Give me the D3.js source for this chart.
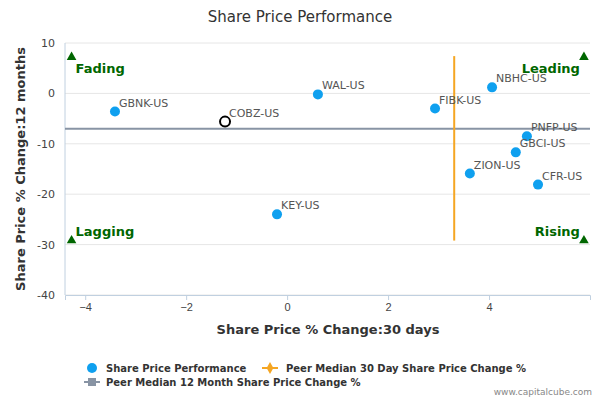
<!DOCTYPE html>
<html><head><meta charset="utf-8">
<script src="https://cdn.jsdelivr.net/npm/d3@7"></script>
<style>body{margin:0;font-family:"DejaVu Sans",sans-serif;background:#fff}</style>
</head><body><svg id="c" width="600" height="400"></svg>
<script>
const names = ["GBNK-US","COBZ-US","WAL-US","KEY-US","FIBK-US","NBHC-US","PNFP-US","GBCI-US","ZION-US","CFR-US"];
const chg30 = [-3.41,-1.23,0.61,-0.2,2.93,4.06,4.75,4.53,3.62,4.97];
const chg12 = [-3.6,-5.6,-0.2,-24,-3.0,1.2,-8.5,-11.7,-15.9,-18.1];
const median30 = 3.31, median12 = -7.0;
const xTicks = [-4,-2,0,2,4], yTicks = [10,0,-10,-20,-30,-40];
const quadrants = [["Fading",-4.27,7.2,"start",16],["Leading",5.88,7.2,"end",16],["Lagging",-4.27,-29.2,"start",-5],["Rising",5.88,-29.2,"end",-5]];

const svg = d3.select("#c");
const x = d3.scaleLinear().domain([-4.4,6.0]).range([65,590]);
const y = d3.scaleLinear().domain([-40,10]).range([295,43]);
const green = "#006600";

svg.append("text").attr("x",300).attr("y",22).attr("text-anchor","middle")
  .attr("font-size",15).attr("fill","#333").text("Share Price Performance");

svg.selectAll(".g").data(yTicks).enter().append("line")
  .attr("x1",65).attr("x2",590).attr("y1",d=>y(d)).attr("y2",d=>y(d))
  .attr("stroke","#e6e6e6");
svg.append("line").attr("x1",65).attr("x2",65).attr("y1",43).attr("y2",295).attr("stroke","#c0d0e0");

const ax = svg.append("g").attr("transform","translate(0,295)").call(d3.axisBottom(x).tickValues(xTicks).tickSize(5).tickFormat(d3.format("d")));
ax.select(".domain").attr("stroke","#c0d0e0");
ax.selectAll("line").attr("stroke","#c0d0e0");
ax.selectAll("text").attr("font-size",11).attr("fill","#444");
yTicks.forEach(t=>svg.append("text").attr("x",55).attr("y",y(t)+4).attr("text-anchor","end").attr("font-size",11).attr("fill","#444").text(t));

svg.append("text").attr("x",328).attr("y",334).attr("text-anchor","middle").attr("font-size",13).attr("font-weight","bold").attr("fill","#333").text("Share Price % Change:30 days");
svg.append("text").attr("transform","translate(25,169) rotate(-90)").attr("text-anchor","middle").attr("font-size",13).attr("font-weight","bold").attr("fill","#333").text("Share Price % Change:12 months");

svg.append("line").attr("x1",65).attr("x2",590).attr("y1",y(median12)).attr("y2",y(median12)).attr("stroke","#8894a4").attr("stroke-width",2);
svg.append("line").attr("x1",x(median30)).attr("x2",x(median30)).attr("y1",y(7.4)).attr("y2",y(-29.2)).attr("stroke","#f5a623").attr("stroke-width",2);

const tri = d3.symbol().type(d3.symbolTriangle).size(40);
quadrants.forEach(q=>{
  svg.append("path").attr("d",tri).attr("transform",`translate(${x(q[1])},${y(q[2])})`).attr("fill",green);
  svg.append("text").attr("x",x(q[1])+(q[3]==="start"?4:-4)).attr("y",y(q[2])+q[4]).attr("text-anchor",q[3])
    .attr("font-size",13).attr("font-weight","bold").attr("fill",green).text(q[0]);
});

names.forEach((n,i)=>{
  const cobz = n==="COBZ-US";
  svg.append("circle").attr("cx",x(chg30[i])).attr("cy",y(chg12[i])).attr("r",5)
    .attr("fill",cobz?"#fff":"#0fa0ef").attr("stroke",cobz?"#000":"none").attr("stroke-width",2);
  svg.append("text").attr("x",x(chg30[i])+4).attr("y",y(chg12[i])-5).attr("font-size",11).attr("fill","#555").text(n);
});

const lg = svg.append("g").attr("font-size",10).attr("font-weight","bold").attr("fill","#333");
lg.append("circle").attr("cx",92).attr("cy",368).attr("r",5).attr("fill","#0fa0ef");
lg.append("text").attr("x",106).attr("y",372).text("Share Price Performance");
lg.append("line").attr("x1",262).attr("x2",278).attr("y1",368).attr("y2",368).attr("stroke","#f5a623").attr("stroke-width",2);
lg.append("path").attr("d",d3.symbol().type(d3.symbolDiamond).size(40)).attr("transform","translate(270,368)").attr("fill","#f5a623");
lg.append("text").attr("x",286).attr("y",372).text("Peer Median 30 Day Share Price Change %");
lg.append("line").attr("x1",84).attr("x2",100).attr("y1",382).attr("y2",382).attr("stroke","#8894a4").attr("stroke-width",2);
lg.append("rect").attr("x",88).attr("y",378).attr("width",8).attr("height",8).attr("fill","#8894a4");
lg.append("text").attr("x",106).attr("y",386).text("Peer Median 12 Month Share Price Change %");
svg.append("text").attr("x",592).attr("y",395).attr("text-anchor","end").attr("font-size",9).attr("fill","#888").text("www.capitalcube.com");
</script></body></html>
